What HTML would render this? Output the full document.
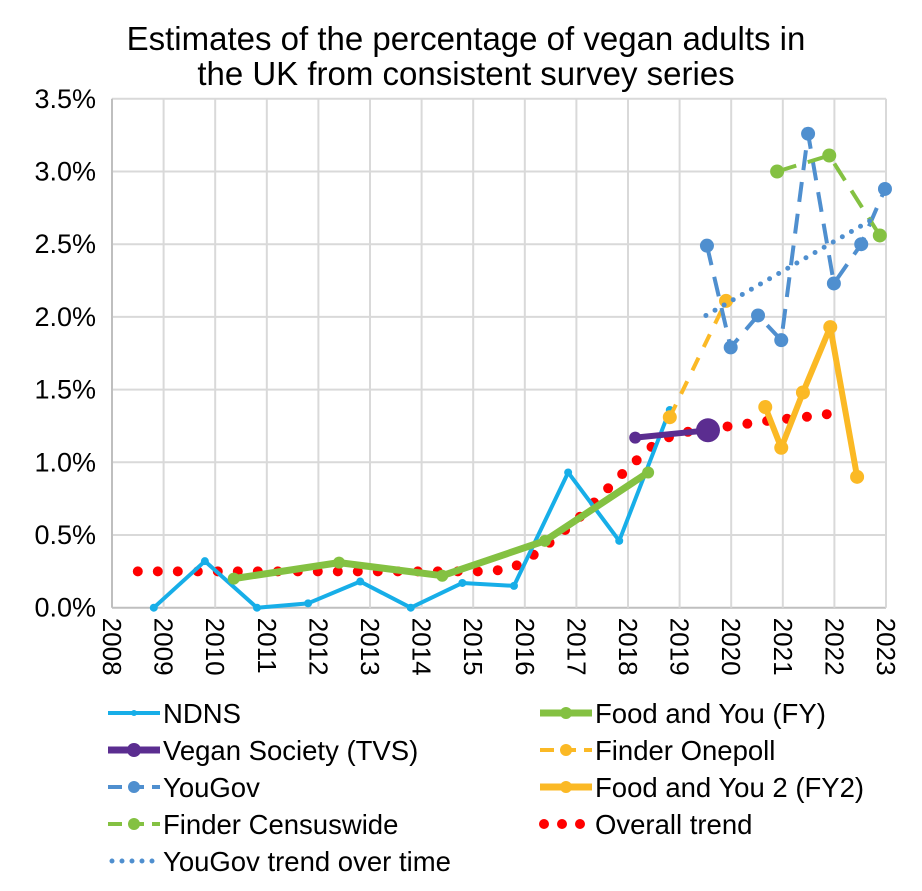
<!DOCTYPE html>
<html><head><meta charset="utf-8"><style>
body{margin:0;background:#fff;}
svg text{font-family:"Liberation Sans",Arial,sans-serif;fill:#000;}
</style></head><body>
<svg id="chart" width="922" height="886" viewBox="0 0 922 886" xmlns="http://www.w3.org/2000/svg">
<rect width="922" height="886" fill="#fff"/>
<text x="466" y="50" font-size="33" text-anchor="middle">Estimates of the percentage of vegan adults in</text>
<text x="466" y="85" font-size="33" text-anchor="middle">the UK from consistent survey series</text>
<g id="grid"></g><g id="series"></g><g id="legend"></g>
</svg>
<script>
const yTicks=[0,0.5,1,1.5,2,2.5,3,3.5];
const xYears=[2008,2009,2010,2011,2012,2013,2014,2015,2016,2017,2018,2019,2020,2021,2022,2023];
const ndnsX=[2008.81,2009.8,2010.81,2011.8,2012.81,2013.79,2014.79,2015.79,2016.84,2017.83,2018.81];
const ndnsY=[0,0.32,0,0.03,0.18,0,0.17,0.15,0.93,0.46,1.36];
const fyX=[2010.36,2012.4,2014.4,2016.39,2018.39];
const fyY=[0.20,0.31,0.22,0.46,0.93];
const tvsX=[2018.14,2019.55];
const tvsY=[1.17,1.22];
const onepollX=[2018.81,2019.9];
const onepollY=[1.31,2.11];
const yougovX=[2019.53,2019.99,2020.52,2020.97,2021.49,2021.99,2022.52,2022.98];
const yougovY=[2.49,1.79,2.01,1.84,3.26,2.23,2.50,2.88];
const fy2X=[2020.66,2020.97,2021.39,2021.92,2022.44];
const fy2Y=[1.38,1.10,1.48,1.93,0.90];
const censusX=[2020.89,2021.9,2022.88];
const censusY=[3.00,3.11,2.56];
const trendX=[2008.5,2015.3,2015.75,2016.2,2016.6,2017.0,2017.5,2018.0,2018.5,2018.95,2019.6,2020.2,2020.8,2021.4,2022.05];
const trendY=[0.25,0.25,0.27,0.37,0.48,0.60,0.78,0.96,1.12,1.20,1.23,1.26,1.29,1.31,1.34];
const ygTrendX=[2019.51,2022.83];
const ygTrendY=[2.01,2.69];

const NS="http://www.w3.org/2000/svg";
const X0=112,XW=51.6,Y0=607.7,YS=145.4;
const sx=v=>X0+(v-2008)*XW, sy=v=>Y0-v*YS;
function mk(tag,at,parent){const e=document.createElementNS(NS,tag);for(const k in at)e.setAttribute(k,at[k]);parent.appendChild(e);return e;}
const grid=document.getElementById('grid'),ser=document.getElementById('series'),leg=document.getElementById('legend');
yTicks.forEach(t=>{
  const l=mk('line',{x1:X0,x2:sx(2023),y1:sy(t),y2:sy(t),stroke:t===0?'#bfbfbf':'#d9d9d9','stroke-width':2},grid);
  
  
  const tx=mk('text',{x:96,y:sy(t)+9,'font-size':27,'text-anchor':'end'},grid);
  tx.textContent=t.toFixed(1)+'%';
  
  
});
xYears.forEach(yr=>{
  const l=mk('line',{x1:sx(yr),x2:sx(yr),y1:sy(3.5),y2:Y0,stroke:yr===2008?'#bfbfbf':'#d9d9d9','stroke-width':2},grid);
  
  
  const tx=mk('text',{x:0,y:0,'font-size':26,transform:`translate(${sx(yr)-9},${Y0+10}) rotate(90)`},grid);
  tx.textContent=yr;
  
  
});
function series(name,xs,ys,color,w,dash,r,lastR){
  const g=mk('g',{},ser);
  
  
  const p=mk('polyline',{points:xs.map((x,i)=>sx(x)+','+sy(ys[i])).join(' '),fill:'none',stroke:color,'stroke-width':w,'stroke-linejoin':'round','stroke-linecap':dash&&dash.startsWith('0')?'round':'butt'},g);
  if(dash)p.setAttribute('stroke-dasharray',dash);
  if(r>0)xs.forEach((x,i)=>{
    const c=mk('circle',{cx:sx(x),cy:sy(ys[i]),r:(lastR&&i===xs.length-1)?lastR:r,fill:color},g);
    
    
  });
}
series('overall-trend',trendX,trendY,'#ff0000',10,'0 20',0);
series('ndns-series',ndnsX,ndnsY,'#17aee8',4,null,4);
series('food-and-you-series',fyX,fyY,'#84c142',7,null,6);
series('vegan-society-series',tvsX,tvsY,'#5b2d90',6,null,6,12);
series('finder-onepoll-series',onepollX,onepollY,'#fbb925',4,'14 12',7);
series('yougov-series',yougovX,yougovY,'#4f8fcf',4,'20 12',7);
series('food-and-you-2-series',fy2X,fy2Y,'#fbb925',6,null,7);
series('finder-censuswide-series',censusX,censusY,'#84c142',4,'20 12',7);
series('yougov-trend',ygTrendX,ygTrendY,'#4f8fcf',5,'0 10.5',0);

const items=[
 ['NDNS','#17aee8',4,null,3,108,713],
 ['Food and You (FY)','#84c142',7,null,6,540,713],
 ['Vegan Society (TVS)','#5b2d90',7,null,7,108,750],
 ['Finder Onepoll','#fbb925',4,'14 8',6,540,750],
 ['YouGov','#4f8fcf',4,'14 8',6,108,787],
 ['Food and You 2 (FY2)','#fbb925',7,null,6,540,787],
 ['Finder Censuswide','#84c142',4,'14 8',6,108,824],
 ['Overall trend','#ff0000',10,'0 18',0,540,824],
 ['YouGov trend over time','#4f8fcf',5,'0 10',0,108,861]
];
items.forEach(it=>{
  const [lab,c,w,d,r,x,y]=it;
  const g=mk('g',{},leg);
  
  
  const isDot=d&&d.startsWith('0');
  const l=mk('line',{x1:isDot?x+4:x,x2:isDot?x+50:x+52,y1:y,y2:y,stroke:c,'stroke-width':w,'stroke-linecap':isDot?'round':'butt'},g);
  if(d)l.setAttribute('stroke-dasharray',d);
  if(r)mk('circle',{cx:x+26,cy:y,r:r,fill:c},g);
  const t=mk('text',{x:x+55,y:y+10,'font-size':27.5},g);
  t.textContent=lab;
});
</script>
</body></html>
